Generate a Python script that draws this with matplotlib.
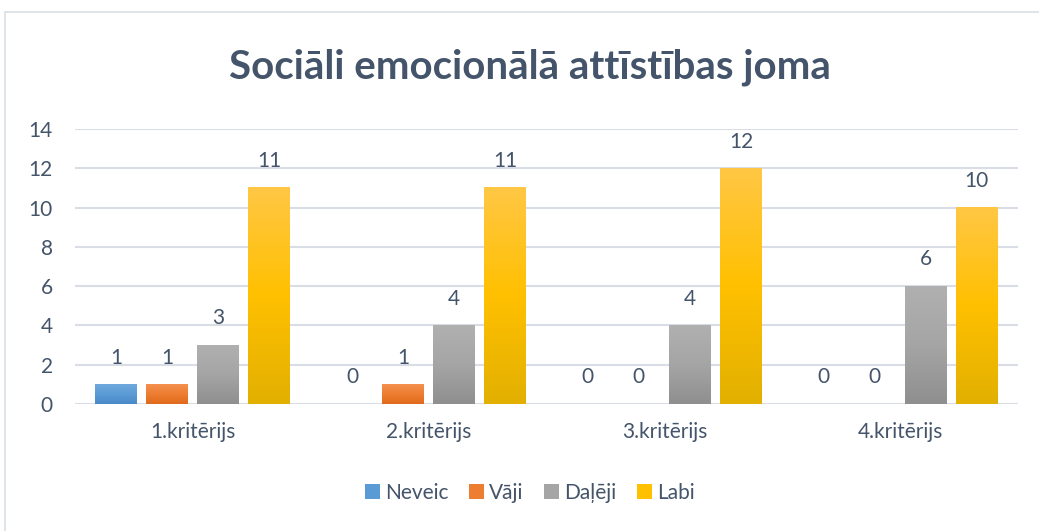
import numpy as np
import matplotlib.pyplot as plt
from matplotlib.colors import LinearSegmentedColormap
from matplotlib.patches import Rectangle, Patch

# dati
kategorijas = ["1.kritērijs", "2.kritērijs", "3.kritērijs", "4.kritērijs"]
serijas = ["Neveic", "Vāji", "Daļēji", "Labi"]
neveic = [1, 0, 0, 0]
vaji = [1, 1, 0, 0]
daleji = [3, 4, 4, 6]
labi = [11, 11, 12, 10]
vertibas = [neveic, vaji, daleji, labi]

# krāsas: augša, vidus, apakša (gradients kā Excel)
krasas = [
    ("#6FA8DC", "#5B9BD5", "#4A89C8"),
    ("#F4904F", "#ED7D31", "#E06A1C"),
    ("#B0B0B0", "#A5A5A5", "#8F8F8F"),
    ("#FFC745", "#FFC000", "#E2B000"),
]
teksta_krasa = "#44546A"

plt.rcParams['font.family'] = ['Lato', 'DejaVu Sans']

fig = plt.figure(figsize=(10.39, 5.31), dpi=100)
ax = fig.add_axes([75/1039, 1-404/531, 943/1039, 275/531])

# rāmis ap visu diagrammu
fig.patches.append(Rectangle((5/1039, -0.05), 1.1, 1-12/531+0.05, transform=fig.transFigure,
                             fill=False, edgecolor="#D9DEE6", linewidth=1.2, zorder=0))

x = np.arange(len(kategorijas))
platums = 0.178
solis = 0.2165
for i, (nosauk, vals) in enumerate(zip(serijas, vertibas)):
    nob = (i - 1.5) * solis
    bars = ax.bar(x + nob, vals, platums, color=krasas[i][1], label=nosauk, zorder=2)
    cmap = LinearSegmentedColormap.from_list("g%d" % i, [krasas[i][2], krasas[i][1], krasas[i][0]])
    grad = np.linspace(0, 1, 256).reshape(-1, 1)
    for b, v in zip(bars, vals):
        if v > 0:
            x0 = b.get_x()
            ax.imshow(grad, cmap=cmap, origin='lower', aspect='auto',
                      extent=(x0, x0 + b.get_width(), 0, v), zorder=3)
        ax.annotate(str(v), (b.get_x() + b.get_width()/2, v), xytext=(0, 12),
                    textcoords='offset points', ha='center', va='bottom',
                    fontsize=15, color=teksta_krasa)

ax.set_xlim(-0.5, 3.5)
ax.set_ylim(0, 14)
ax.set_yticks(range(0, 15, 2))
ax.set_xticks(x)
ax.set_xticklabels(kategorijas)
ax.grid(axis='y', color="#D9DEE6", linewidth=1.5, zorder=0)
ax.set_axisbelow(True)
for s in ax.spines.values():
    s.set_visible(False)
ax.tick_params(length=0, labelsize=15, labelcolor=teksta_krasa)
ax.tick_params(axis='x', pad=13)
ax.tick_params(axis='y', pad=16)

fig.text(0.51, 1-67/531, "Sociāli emocionālā attīstības joma", ha='center', va='center',
         fontsize=29, fontweight='bold', color=teksta_krasa)

rokturi = [Patch(facecolor=k[1], label=n) for k, n in zip(krasas, serijas)]
fig.legend(handles=rokturi, loc='center', bbox_to_anchor=(0.51, 1-493/531), ncol=4,
           frameon=False, fontsize=15, handlelength=0.7, handleheight=0.7,
           handletextpad=0.25, columnspacing=1.0, labelcolor=teksta_krasa)

plt.savefig("out.png", dpi=100)
